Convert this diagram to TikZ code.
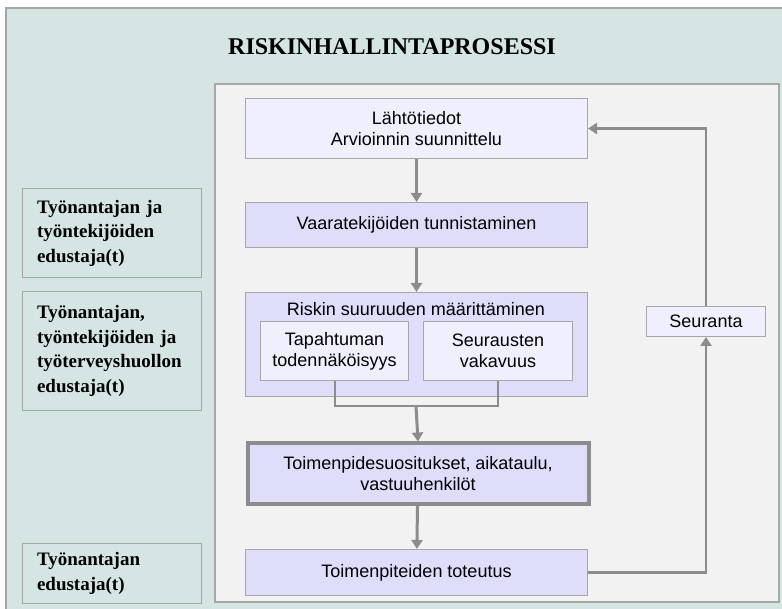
\documentclass[tikz,border=0pt]{standalone}
\usepackage{fontspec}
\setmainfont{Liberation Serif}
\newfontfamily\flowfont{Liberation Sans}
\usetikzlibrary{arrows.meta,calc}

\definecolor{outerbg}{HTML}{D4E5E3}
\definecolor{innerbg}{HTML}{F2F2F2}
\definecolor{boxline}{HTML}{A6A6A6}
\definecolor{arrowgrey}{HTML}{8C8C8C}
\definecolor{palebox}{HTML}{EFEFFD}
\definecolor{lavbox}{HTML}{DEDEFB}

\tikzset{
  flowbox/.style={draw=boxline, line width=1pt, fill=lavbox, font=\flowfont\fontsize{18}{21}\selectfont,
    align=center, inner sep=0pt, anchor=north west},
  lightbox/.style={flowbox, fill=palebox},
  rolebox/.style={draw=boxline, line width=1pt, fill=outerbg, font=\bfseries\fontsize{19}{24.5}\selectfont,
    align=left, text width=150pt, inner xsep=14pt, inner ysep=0pt, anchor=north west},
  mainarrow/.style={draw=arrowgrey, line width=3pt, -{Triangle[width=11pt,length=9pt]}},
  looparrow/.style={draw=arrowgrey, line width=2.4pt, -{Triangle[width=11pt,length=9pt]}},
  bracket/.style={draw=arrowgrey, line width=2pt},
}

\begin{document}
\begin{tikzpicture}[x=1pt,y=-1pt]
\useasboundingbox (0,0) rectangle (782,609);
\clip (0,0) rectangle (782,609);

% backgrounds
\draw[boxline, line width=1.5pt, fill=outerbg] (6,8) rectangle (800,630);
\draw[boxline, line width=1.2pt, fill=innerbg] (215,84) rectangle (779,602);

\node[font=\bfseries\fontsize{24}{28}\selectfont, anchor=base] (title) at (392,55) {RISKINHALLINTAPROSESSI};

% participant boxes
\node[rolebox, minimum width=179pt, minimum height=89pt] (role1) at (22,188)
  {Työnantajan ja\\työntekijöiden\\edustaja(t)};
\node[rolebox, minimum width=179pt, minimum height=119pt] (role2) at (22,291)
  {Työnantajan,\\työntekijöiden ja\\työterveyshuollon\\edustaja(t)};
\node[rolebox, minimum width=179pt, minimum height=60pt] (role3) at (22,543)
  {Työnantajan\\edustaja(t)};

% process steps
\node[lightbox, minimum width=342pt, minimum height=60pt] (lahto) at (245,98)
  {Lähtötiedot\\Arvioinnin suunnittelu};
\node[flowbox, minimum width=342pt, minimum height=45pt] (vaara) at (245,202)
  {Vaaratekijöiden tunnistaminen};
\node[flowbox, fill=lavbox, minimum width=342pt, minimum height=104pt] (riski) at (245,292) {};
\node[font=\flowfont\fontsize{18}{21}\selectfont, anchor=base] (riskititle) at (416,316)
  {Riskin suuruuden määrittäminen};
\node[lightbox, minimum width=148pt, minimum height=59pt] (tapa) at (260,321)
  {Tapahtuman\\todennäköisyys};
\node[lightbox, minimum width=149pt, minimum height=59pt] (seur) at (423,321)
  {Seurausten\\vakavuus};
\node[flowbox, draw=arrowgrey, line width=4pt, minimum width=341pt, minimum height=60pt] (toim) at (245.5,441.5)
  {Toimenpidesuositukset, aikataulu,\\vastuuhenkilöt};
\node[flowbox, minimum width=342pt, minimum height=46pt] (tot) at (245,549)
  {Toimenpiteiden toteutus};
\node[lightbox, minimum width=119pt, minimum height=30pt] (seuranta) at (646,306)
  {Seuranta};

% connectors
\coordinate (join) at (416,406);
\draw[mainarrow] (lahto) -- (vaara);
\draw[mainarrow] (vaara) -- (riski);
\draw[bracket] (tapa.south) -- (tapa.south |- join) -- (seur.south |- join) -- (seur.south);
\draw[mainarrow] (join) -- (toim.north);
\draw[mainarrow] (toim) -- (tot);
\draw[looparrow] (tot.east) -| (seuranta.south);
\draw[looparrow] (seuranta.north) |- (lahto.east);
\end{tikzpicture}
\end{document}
